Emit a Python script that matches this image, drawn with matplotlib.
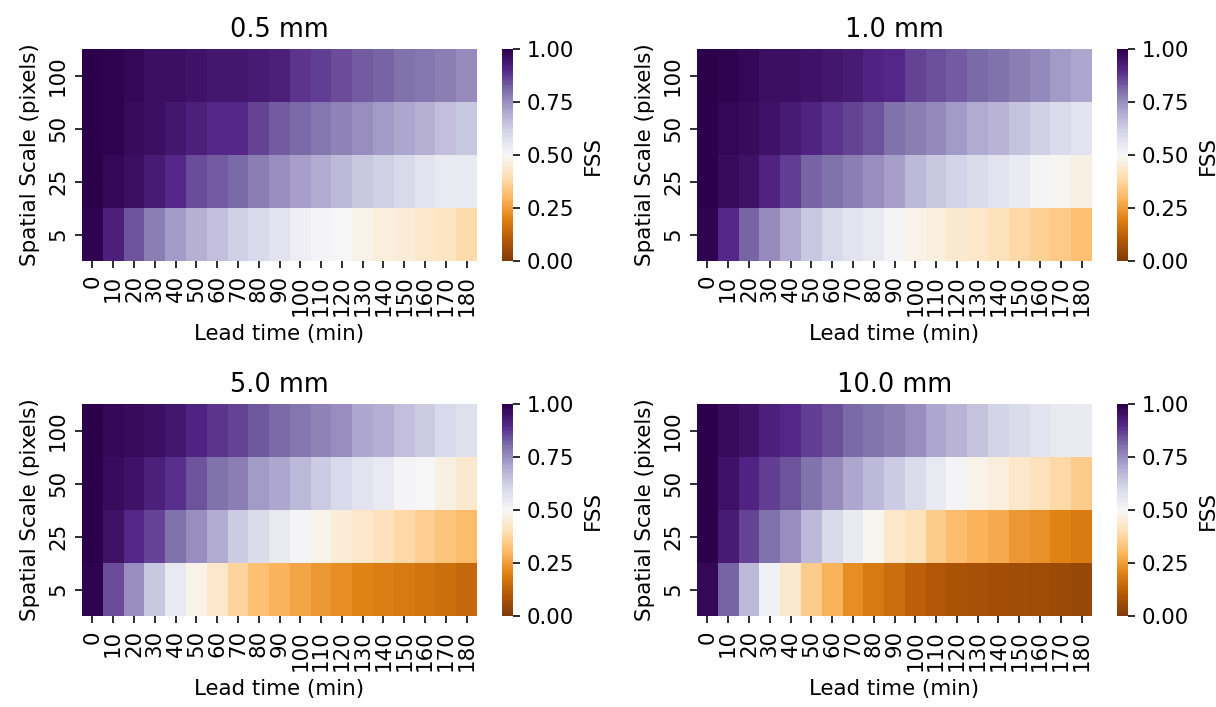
import numpy as np
import pandas as pd
import matplotlib
matplotlib.use("Agg")
import matplotlib.pyplot as plt
import seaborn as sns

plt.rcParams["font.size"] = 10.7

# lead times (min) and spatial scales (pixels), top row first
LEAD_TIMES = [0, 10, 20, 30, 40, 50, 60, 70, 80, 90,
              100, 110, 120, 130, 140, 150, 160, 170, 180]
SCALES = [100, 50, 25, 5]

THRESHOLDS = ["0.5 mm", "1.0 mm", "5.0 mm", "10.0 mm"]

# FSS, rows = 100, 50, 25, 5 pixels
fss_05 = [
    [1.00, 0.99, 0.98, 0.96, 0.96, 0.95, 0.94, 0.94, 0.93, 0.92, 0.88, 0.87, 0.85, 0.83, 0.82, 0.80, 0.79, 0.78, 0.755],
    [1.00, 0.99, 0.97, 0.96, 0.94, 0.92, 0.90, 0.90, 0.86, 0.83, 0.81, 0.79, 0.77, 0.75, 0.73, 0.71, 0.69, 0.66, 0.64],
    [1.00, 0.98, 0.96, 0.93, 0.90, 0.85, 0.83, 0.81, 0.78, 0.75, 0.72, 0.70, 0.67, 0.64, 0.62, 0.60, 0.57, 0.55, 0.54],
    [0.99, 0.92, 0.84, 0.78, 0.73, 0.69, 0.66, 0.62, 0.60, 0.57, 0.53, 0.51, 0.50, 0.48, 0.46, 0.45, 0.43, 0.42, 0.39],
]
fss_10 = [
    [1.00, 0.99, 0.98, 0.96, 0.96, 0.95, 0.94, 0.93, 0.91, 0.90, 0.86, 0.845, 0.83, 0.81, 0.80, 0.78, 0.76, 0.73, 0.71],
    [1.00, 0.98, 0.97, 0.95, 0.93, 0.91, 0.88, 0.86, 0.84, 0.80, 0.78, 0.76, 0.73, 0.70, 0.68, 0.65, 0.62, 0.59, 0.57],
    [1.00, 0.97, 0.95, 0.91, 0.87, 0.82, 0.80, 0.78, 0.75, 0.72, 0.67, 0.64, 0.61, 0.59, 0.57, 0.54, 0.51, 0.49, 0.47],
    [0.99, 0.90, 0.82, 0.755, 0.70, 0.64, 0.60, 0.57, 0.55, 0.51, 0.48, 0.46, 0.44, 0.43, 0.41, 0.38, 0.36, 0.345, 0.32],
]
fss_50 = [
    [1.00, 0.98, 0.97, 0.96, 0.94, 0.91, 0.88, 0.86, 0.835, 0.81, 0.79, 0.77, 0.75, 0.71, 0.695, 0.66, 0.63, 0.60, 0.58],
    [1.00, 0.97, 0.95, 0.92, 0.89, 0.84, 0.80, 0.78, 0.73, 0.71, 0.67, 0.63, 0.60, 0.57, 0.55, 0.51, 0.50, 0.47, 0.44],
    [1.00, 0.95, 0.90, 0.86, 0.80, 0.75, 0.70, 0.63, 0.59, 0.55, 0.51, 0.48, 0.45, 0.43, 0.41, 0.38, 0.355, 0.33, 0.31],
    [0.99, 0.85, 0.75, 0.64, 0.55, 0.48, 0.43, 0.37, 0.32, 0.29, 0.265, 0.24, 0.22, 0.20, 0.19, 0.18, 0.17, 0.155, 0.14],
]
fss_100 = [
    [1.00, 0.97, 0.95, 0.92, 0.90, 0.87, 0.845, 0.81, 0.795, 0.78, 0.75, 0.71, 0.68, 0.65, 0.61, 0.59, 0.57, 0.55, 0.54],
    [1.00, 0.95, 0.91, 0.87, 0.84, 0.80, 0.755, 0.71, 0.67, 0.63, 0.59, 0.55, 0.51, 0.48, 0.46, 0.43, 0.41, 0.38, 0.35],
    [1.00, 0.93, 0.86, 0.80, 0.75, 0.67, 0.60, 0.54, 0.49, 0.43, 0.41, 0.35, 0.31, 0.29, 0.275, 0.24, 0.23, 0.20, 0.18],
    [0.98, 0.82, 0.67, 0.52, 0.44, 0.35, 0.29, 0.22, 0.18, 0.15, 0.12, 0.10, 0.085, 0.075, 0.07, 0.065, 0.06, 0.055, 0.045],
]

panels = [fss_05, fss_10, fss_50, fss_100]

W, H = 1216, 707
fig = plt.figure(figsize=(W / 144, H / 144), dpi=144)

# pixel layout of the heatmaps and their colorbars
lefts = [82, 697]
tops = [49, 404]
hm_w = 395
hm_h = 212
cb_off = 420
cb_w = 11


def box(x0, y0, w, h):
    return [x0 / W, 1 - (y0 + h) / H, w / W, h / H]


for i, (name, vals) in enumerate(zip(THRESHOLDS, panels)):
    r, c = divmod(i, 2)
    ax = fig.add_axes(box(lefts[c], tops[r], hm_w, hm_h))
    cax = fig.add_axes(box(lefts[c] + cb_off, tops[r], cb_w, hm_h))
    df = pd.DataFrame(vals, index=SCALES, columns=LEAD_TIMES)
    sns.heatmap(df, ax=ax, cbar_ax=cax, cmap="PuOr", vmin=0, vmax=1,
                xticklabels=True, yticklabels=True,
                cbar_kws={"label": "FSS", "ticks": [0, 0.25, 0.5, 0.75, 1.0]})
    cax.set_yticklabels(["0.00", "0.25", "0.50", "0.75", "1.00"])
    ax.set_title(name)
    ax.set_xlabel("Lead time (min)")
    ax.set_ylabel("Spatial Scale (pixels)")
    plt.setp(ax.get_xticklabels(), rotation=90)
    plt.setp(ax.get_yticklabels(), rotation=90, va="center")

fig.savefig("out.png", dpi=144)
